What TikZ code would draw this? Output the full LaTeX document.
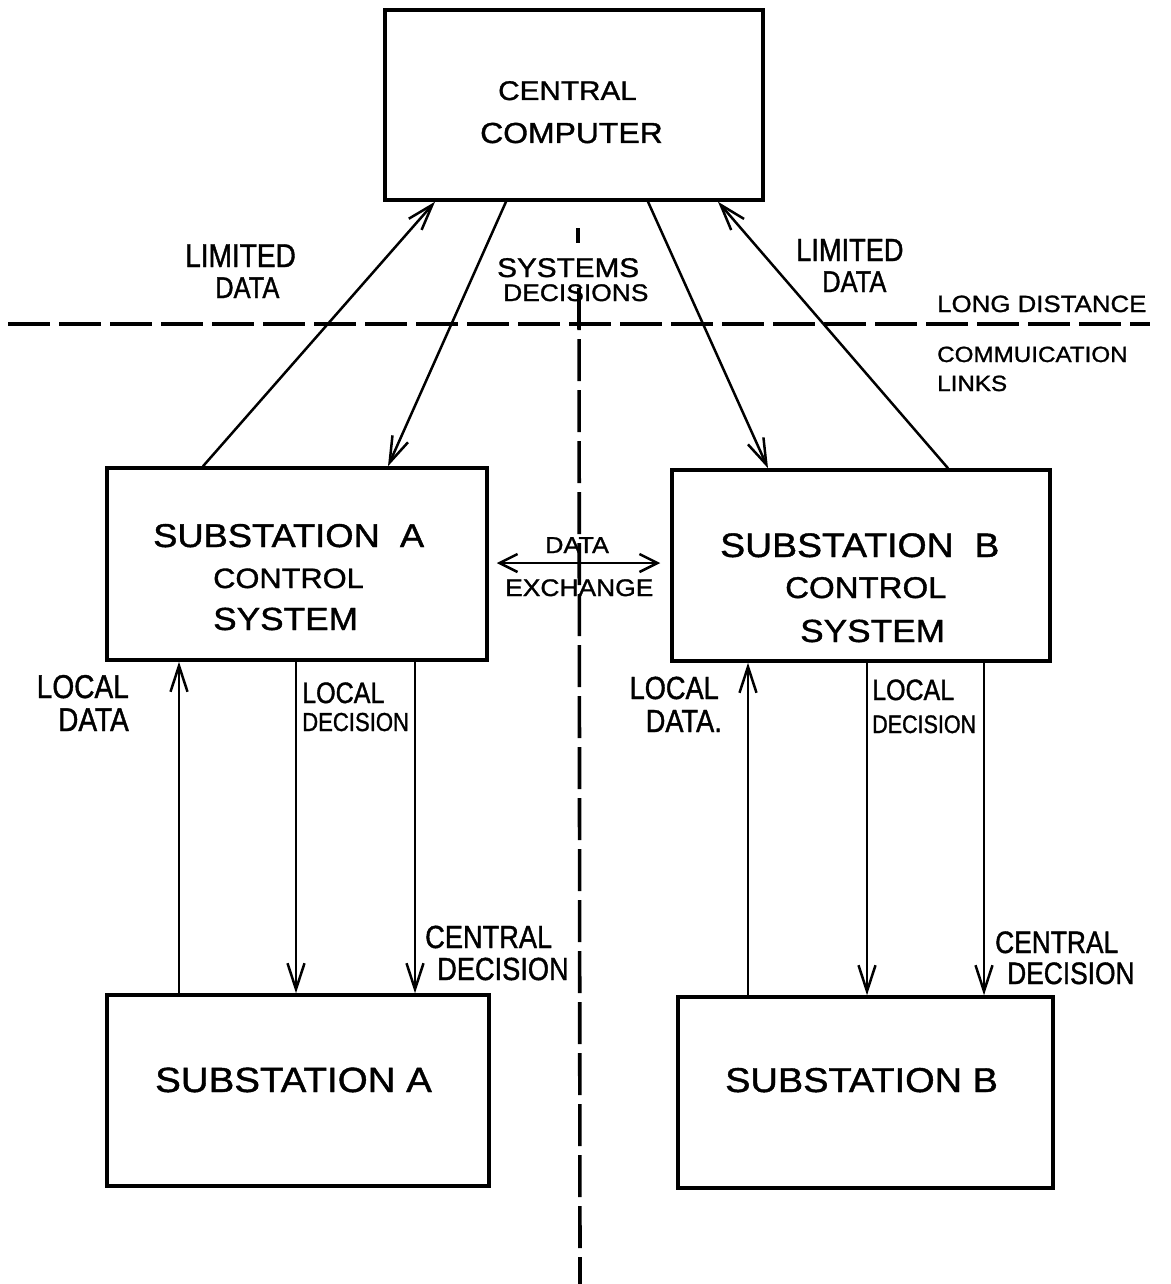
\documentclass[tikz,border=0pt]{standalone}
\usepackage{fontspec}
\newfontfamily\hand[FakeStretch=1.1,FakeBold=1.2]{Liberation Sans}
\newfontfamily\handn[FakeStretch=0.85,FakeBold=1.2]{Liberation Sans}
\usetikzlibrary{arrows.meta}
\begin{document}
\begin{tikzpicture}[x=1pt,y=-1pt,
  box/.style={draw, line width=3.5pt, inner sep=0pt},
  txt/.style={inner sep=0pt, font=\hand\fontsize{#1}{#1}\selectfont},
  ntxt/.style={inner sep=0pt, font=\handn\fontsize{#1}{#1}\selectfont},
  tw/.style={txt=#1, anchor=base west},
  nw/.style={ntxt=#1, anchor=base west},
  ne/.style={ntxt=#1, anchor=base east},
  barb/.tip={Straight Barb[length=26pt,width=17pt]},
  link/.style={line width=2.5pt, -barb},
  divider/.style={line width=3.6pt, dash pattern=on 42pt off 9pt}
]
\useasboundingbox (0,0) rectangle (1170,1284);

% boxes
\node[box, minimum width=378pt, minimum height=190pt] (cc)  at (574,105) {};
\node[box, minimum width=380pt, minimum height=192pt] (sac) at (297,564) {};
\node[box, minimum width=378pt, minimum height=191pt] (sbc) at (861,565.5) {};
\node[box, minimum width=382pt, minimum height=191pt] (sa)  at (298,1090.5) {};
\node[box, minimum width=375pt, minimum height=191pt] (sb)  at (865.5,1092.5) {};

% box texts
\node[tw=27] (t1) at (498,100) {CENTRAL};
\node[tw=29] (t2) at (480,143) {COMPUTER};
\node[tw=33] (t3) at (153,547) {SUBSTATION\ \ A};
\node[tw=28] (t4) at (213,588) {CONTROL};
\node[tw=32] (t5) at (213,630) {SYSTEM};
\node[tw=34] (t6) at (720,557) {SUBSTATION\ \ B};
\node[tw=30] (t7) at (785,598) {CONTROL};
\node[tw=32] (t8) at (800,642) {SYSTEM};
\node[tw=35] (t9) at (155,1092) {SUBSTATION\ A};
\node[tw=34.5] (t10) at (725,1092) {SUBSTATION\ B};

% dividing lines
\coordinate (hl) at (8,324);
\coordinate (hr) at (1150,324);
\draw[divider] (hl) -- (hr);
\coordinate (vt1) at (578,228);
\coordinate (vt2) at (578,243);
\coordinate (vt3) at (579,288);
\coordinate (vb) at (580,1284);
\draw[line width=3.6pt] (vt1) -- (vt2);
\draw[divider] (vt3) -- (vb);

% x positions of the connectors
\coordinate (xa1) at (203,0);
\coordinate (xa2) at (435,0);
\coordinate (xa3) at (506,0);
\coordinate (xa4) at (388,0);
\coordinate (xb1) at (648,0);
\coordinate (xb2) at (768,0);
\coordinate (xb3) at (948,0);
\coordinate (xb4) at (718,0);
\coordinate (xla) at (179,0);
\coordinate (xda) at (296,0);
\coordinate (xca) at (415,0);
\coordinate (xlb) at (748,0);
\coordinate (xdb) at (867,0);
\coordinate (xcb) at (984,0);
\coordinate (yex) at (0,563);

% long distance links
\draw[link] (sac.north -| xa1) -- (cc.south -| xa2);
\draw[link] (cc.south -| xa3) -- (sac.north -| xa4);
\draw[link] (cc.south -| xb1) -- (sbc.north -| xb2);
\draw[link] (sbc.north -| xb3) -- (cc.south -| xb4);

% local links
\draw[link] (sa.north -| xla) -- (sac.south -| xla);
\draw[link] (sac.south -| xda) -- (sa.north -| xda);
\draw[link] (sac.south -| xca) -- (sa.north -| xca);
\draw[link] (sb.north -| xlb) -- (sbc.south -| xlb);
\draw[link] (sbc.south -| xdb) -- (sb.north -| xdb);
\draw[link] (sbc.south -| xcb) -- (sb.north -| xcb);

% data exchange
\draw[line width=2.5pt, {Straight Barb[length=18pt,width=18pt]}-{Straight Barb[length=18pt,width=18pt]},
      shorten <=8pt, shorten >=10pt] (sac.east |- yex) -- (sbc.west |- yex);

% labels
\node[nw=33] (l1) at (185,267) {LIMITED};
\node[nw=30] (l2) at (215,298) {DATA};
\node[nw=32] (l3) at (796,261) {LIMITED};
\node[nw=30] (l4) at (822,292) {DATA};
\node[tw=27] (l5) at (497,277) {SYSTEMS};
\node[tw=24] (l6) at (503,301) {DECISIONS};
\node[tw=23.5] (l7) at (937,312) {LONG DISTANCE};
\node[tw=22] (l8) at (937,362) {COMMUICATION};
\node[tw=22] (l9) at (937,391) {LINKS};
\node[tw=23] (l10) at (545,553) {DATA};
\node[tw=24] (l11) at (505,596) {EXCHANGE};
\node[ne=33] (l12) at (129,698) {LOCAL};
\node[ne=33] (l13) at (129,731) {DATA};
\node[nw=29.5] (l14) at (302,703) {LOCAL};
\node[nw=26] (l15) at (302,731) {DECISION};
\node[nw=32] (l16) at (425,948) {CENTRAL};
\node[nw=32] (l17) at (437,980) {DECISION};
\node[ne=32] (l18) at (719,699) {LOCAL};
\node[ne=32] (l19) at (722,732) {DATA.};
\node[nw=29.4] (l20) at (872,700) {LOCAL};
\node[nw=25.3] (l21) at (872,733) {DECISION};
\node[nw=31] (l22) at (995,953) {CENTRAL};
\node[nw=31] (l23) at (1007,984) {DECISION};
\end{tikzpicture}
\end{document}
